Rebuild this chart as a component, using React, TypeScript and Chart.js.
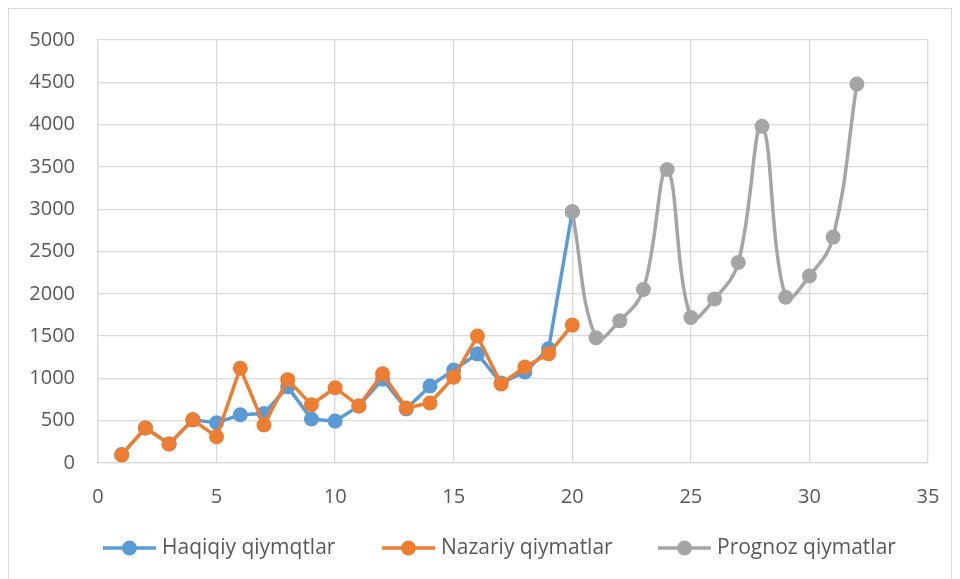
import React, { useEffect, useRef } from "react";
import { Chart, registerables } from "chart.js";

Chart.register(...registerables);

const seriesNames = ["Haqiqiy qiymqtlar", "Nazariy qiymatlar", "Prognoz qiymatlar"];
const actualX = [1, 2, 3, 4, 5, 6, 7, 8, 9, 10, 11, 12, 13, 14, 15, 16, 17, 18, 19, 20];
const actualValues = [100, 415, 225, 510, 475, 570, 585, 900, 520, 495, 675, 990, 640, 910, 1100, 1290, 945, 1075, 1350, 2970];
const theoreticalValues = [95, 415, 225, 510, 310, 1120, 450, 985, 690, 890, 675, 1055, 650, 710, 1015, 1500, 935, 1135, 1290, 1630];
const forecastX = [20, 21, 22, 23, 24, 25, 26, 27, 28, 29, 30, 31, 32];
const forecastValues = [2970, 1480, 1680, 2050, 3470, 1720, 1940, 2370, 3980, 1960, 2210, 2670, 4480];
const colors = ["#5B9BD5", "#ED7D31", "#A5A5A5"];

const FONT = "'Open Sans', sans-serif";
const TEXT = "#595959";

const legendPlugin = {
  id: "excelLegend",
  afterDraw(chart: any) {
    const ctx = chart.ctx as CanvasRenderingContext2D;
    const y = 539;
    const starts = [94, 373, 649];
    ctx.save();
    chart.data.datasets.forEach((ds: any, i: number) => {
      const x = starts[i];
      const c = colors[i];
      ctx.strokeStyle = c;
      ctx.lineWidth = 3.5;
      ctx.beginPath();
      ctx.moveTo(x, y);
      ctx.lineTo(x + 53, y);
      ctx.stroke();
      ctx.fillStyle = c;
      ctx.beginPath();
      ctx.arc(x + 26.5, y, 7.5, 0, Math.PI * 2);
      ctx.fill();
      ctx.fillStyle = TEXT;
      ctx.font = `21px ${FONT}`;
      ctx.textBaseline = "middle";
      ctx.textAlign = "left";
      ctx.fillText(ds.label, x + 59, y);
    });
    ctx.restore();
  },
};

export default function App() {
  const ref = useRef<HTMLCanvasElement>(null);
  useEffect(() => {
    const pts = (xs: number[], ys: number[]) => xs.map((x, i) => ({ x, y: ys[i] }));
    const common = { borderWidth: 3.5, pointRadius: 7.5, pointBorderWidth: 0, pointHoverRadius: 7.5 };
    const chart = new Chart(ref.current!, {
      type: "line",
      data: {
        datasets: [
          { label: seriesNames[0], data: pts(actualX, actualValues), borderColor: colors[0], backgroundColor: colors[0], tension: 0, order: 3, ...common },
          { label: seriesNames[1], data: pts(actualX, theoreticalValues), borderColor: colors[1], backgroundColor: colors[1], tension: 0, order: 2, ...common },
          { label: seriesNames[2], data: pts(forecastX, forecastValues), borderColor: colors[2], backgroundColor: colors[2], tension: 0.4, order: 1, ...common },
        ],
      },
      options: {
        animation: false,
        responsive: true,
        maintainAspectRatio: false,
        layout: { padding: { left: 18, right: 23, top: 31, bottom: 74 } },
        scales: {
          x: {
            type: "linear",
            min: 0,
            max: 35,
            afterFit: (s: any) => {
              s.height = 50;
              s.paddingLeft = 0;
              s.paddingRight = 0;
            },
            ticks: { stepSize: 5, color: TEXT, font: { family: FONT, size: 20 }, padding: 22, callback: (v: any) => String(v) },
            grid: { color: "#d9d9d9", lineWidth: 1.3, drawTicks: false },
            border: { color: "#d9d9d9", width: 1.3 },
          },
          y: {
            min: 0,
            max: 5000,
            afterFit: (s: any) => {
              s.width = 71;
              s.paddingTop = 0;
              s.paddingBottom = 0;
            },
            ticks: { stepSize: 500, color: TEXT, font: { family: FONT, size: 20 }, padding: 23, callback: (v: any) => String(v) },
            grid: { color: "#d9d9d9", lineWidth: 1.3, drawTicks: false },
            border: { color: "#d9d9d9", width: 1.3 },
          },
        },
        plugins: { tooltip: { enabled: false }, legend: { display: false } },
      },
      plugins: [legendPlugin],
    });
    return () => chart.destroy();
  }, []);
  return (
    <div style={{ width: 944, height: 580, border: "1px solid #d9d9d9", boxSizing: "border-box", background: "#fff" }}>
      <canvas ref={ref} />
    </div>
  );
}
